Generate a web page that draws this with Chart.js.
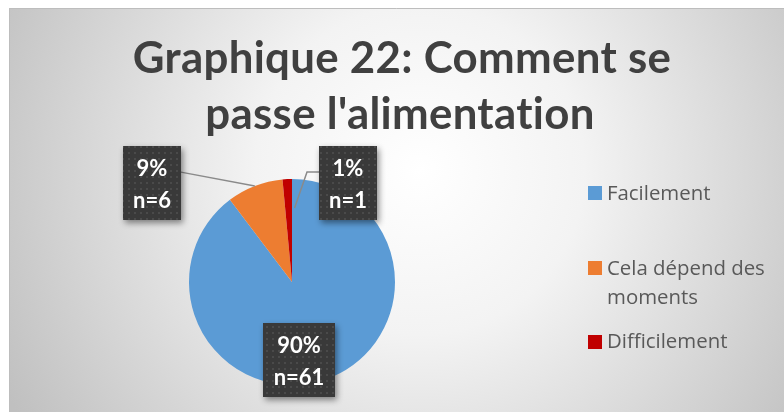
<!DOCTYPE html>
<html>
<head>
<meta charset="utf-8">
<script src="https://cdn.jsdelivr.net/npm/chart.js@4"></script>
<style>
  html, body { margin: 0; padding: 0; background: #ffffff; }
  #c { display: block; }
</style>
</head>
<body>
<canvas id="c" width="784" height="412"></canvas>
<script>
// ---- Data ----
const titleLines = ["Graphique 22: Comment se", "passe l'alimentation"];
const categories = ["Facilement", "Cela dépend des moments", "Difficilement"];
const legendLines = [["Facilement"], ["Cela dépend des", "moments"], ["Difficilement"]];
const counts = [61, 6, 1];
const percentLabels = ["90%", "9%", "1%"];
const sliceColors = ["#5b9bd5", "#ed7d31", "#c00000"];

// ---- Layout (label box centers relative to pie center, in radius units) ----
const labelBoxes = [
  { dx: 0.07, dy: 0.757, w: 72, h: 74 },
  { dx: -1.36, dy: -0.96, w: 58, h: 74 },
  { dx: 0.544, dy: -0.96, w: 58, h: 74 }
];
const legendBaselines = [199.5, 274.5, 348];

function makePattern(ctx) {
  const p = document.createElement('canvas');
  p.width = 6; p.height = 6;
  const g = p.getContext('2d');
  g.fillStyle = '#393939';
  g.fillRect(0, 0, 6, 6);
  g.fillStyle = '#4a4a4a';
  g.fillRect(2, 2, 2, 2);
  return ctx.createPattern(p, 'repeat');
}

const decor = {
  id: 'decor',
  beforeDraw(chart) {
    const ctx = chart.ctx;
    ctx.save();
    ctx.fillStyle = '#ffffff';
    ctx.fillRect(0, 0, chart.width, chart.height);
    const g = ctx.createRadialGradient(420, 170, 0, 420, 170, 470);
    g.addColorStop(0, '#ffffff');
    g.addColorStop(0.35, '#f3f3f3');
    g.addColorStop(1, '#c0c0c0');
    ctx.fillStyle = g;
    ctx.fillRect(9, 8, chart.width - 9, chart.height - 8);
    ctx.strokeStyle = '#bdbdbd';
    ctx.lineWidth = 1;
    ctx.beginPath();
    ctx.moveTo(9.5, chart.height);
    ctx.lineTo(9.5, 8.5);
    ctx.lineTo(chart.width, 8.5);
    ctx.stroke();
    ctx.restore();
  },
  afterDraw(chart) {
    const ctx = chart.ctx;
    const meta = chart.getDatasetMeta(0);
    const arc0 = meta.data[0];
    const cx = arc0.x, cy = arc0.y, r = arc0.outerRadius;
    ctx.save();

    // Title
    ctx.fillStyle = '#404040';
    ctx.font = 'bold 43.8px Lato';
    ctx.letterSpacing = '0.3px';
    ctx.textAlign = 'center';
    ctx.textBaseline = 'alphabetic';
    ctx.fillText(titleLines[0], 402, 73);
    ctx.fillText(titleLines[1], 400, 129);
    ctx.letterSpacing = '0px';

    // Leader lines
    ctx.strokeStyle = '#8a8a8a';
    ctx.lineWidth = 1.5;
    const boxes = labelBoxes.map(b => ({ x: cx + b.dx * r, y: cy + b.dy * r, w: b.w, h: b.h }));
    {
      const a = meta.data[1];
      const mid = (a.startAngle + a.endAngle) / 2;
      const px = cx + Math.cos(mid) * r, py = cy + Math.sin(mid) * r;
      const b = boxes[1];
      ctx.beginPath();
      ctx.moveTo(b.x + b.w / 2, b.y - 11);
      ctx.lineTo(px, py);
      ctx.stroke();
    }
    {
      const a = meta.data[2];
      const mid = (a.startAngle + a.endAngle) / 2;
      const px = cx + Math.cos(mid) * r * 0.72 + 6, py = cy + Math.sin(mid) * r * 0.72;
      const b = boxes[2];
      ctx.beginPath();
      ctx.moveTo(b.x - b.w / 2, b.y - 11);
      ctx.lineTo(cx + 15, b.y - 11);
      ctx.lineTo(px, py);
      ctx.stroke();
    }

    // Label boxes
    const pat = makePattern(ctx);
    boxes.forEach((b, i) => {
      const left = Math.round(b.x - b.w / 2), top = Math.round(b.y - b.h / 2);
      ctx.save();
      ctx.shadowColor = 'rgba(0,0,0,0.45)';
      ctx.shadowBlur = 6;
      ctx.shadowOffsetX = 2;
      ctx.shadowOffsetY = 3;
      ctx.fillStyle = pat;
      ctx.fillRect(left, top, b.w, b.h);
      ctx.restore();
      ctx.fillStyle = '#ffffff';
      ctx.font = 'bold 22px Lato';
      ctx.textAlign = 'center';
      ctx.textBaseline = 'alphabetic';
      ctx.fillText(percentLabels[i], left + b.w / 2, top + 30);
      ctx.fillText('n=' + counts[i], left + b.w / 2, top + 62);
    });

    // Legend
    ctx.font = '20.4px "Open Sans"';
    ctx.textAlign = 'left';
    ctx.textBaseline = 'alphabetic';
    categories.forEach((c, i) => {
      const y = legendBaselines[i];
      ctx.fillStyle = sliceColors[i];
      ctx.fillRect(588, Math.round(y - 13.5), 14, 14);
      ctx.fillStyle = '#595959';
      legendLines[i].forEach((line, j) => {
        ctx.fillText(line, 607, y + j * 29);
      });
    });
    ctx.restore();
  }
};

new Chart(document.getElementById('c'), {
  type: 'pie',
  data: {
    labels: categories,
    datasets: [{
      data: counts,
      backgroundColor: sliceColors,
      borderWidth: 0
    }]
  },
  options: {
    responsive: false,
    animation: false,
    layout: { padding: { left: 189, right: 389, top: 179, bottom: 27 } },
    plugins: {
      legend: { display: false },
      tooltip: { enabled: false },
      title: { display: false }
    }
  },
  plugins: [decor]
});
</script>
</body>
</html>
